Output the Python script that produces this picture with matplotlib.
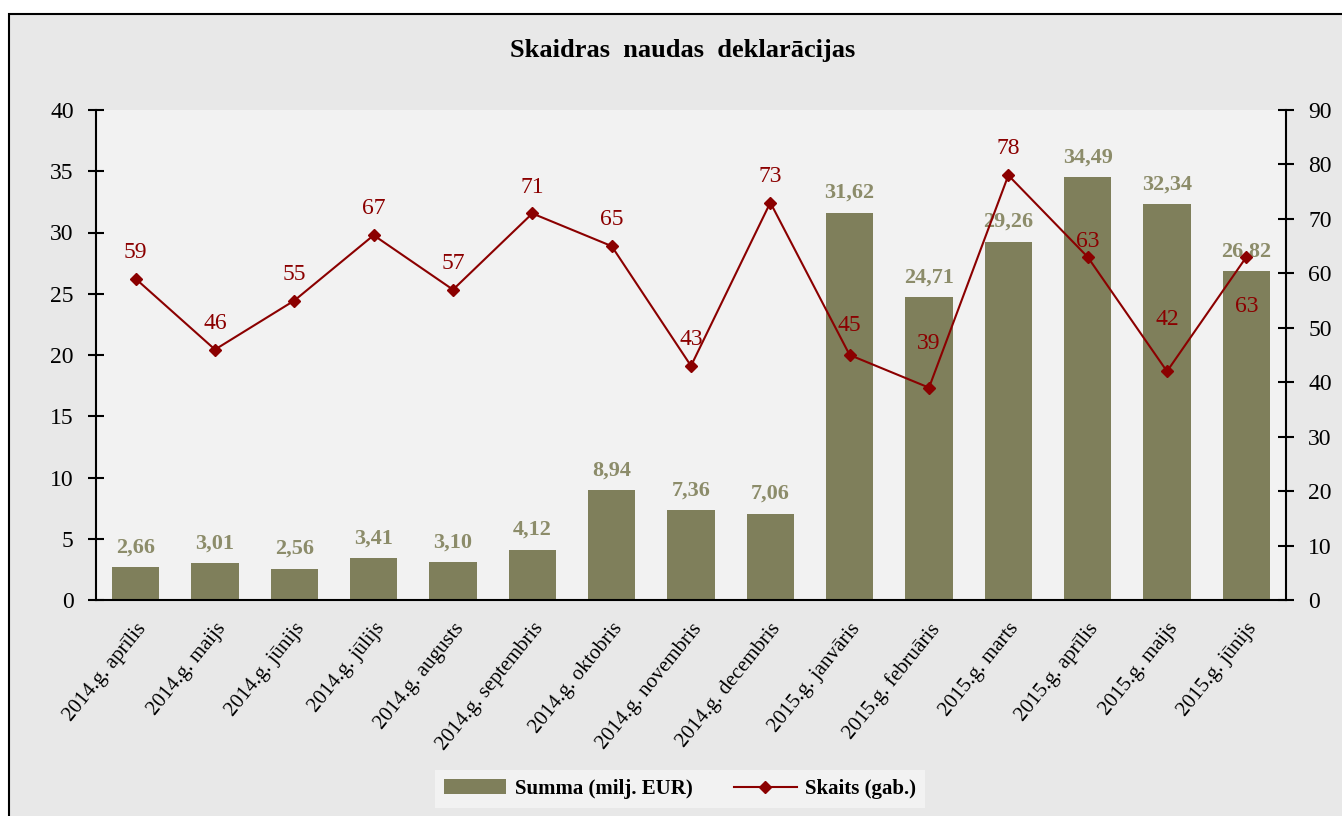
import numpy as np
import matplotlib
matplotlib.use("Agg")
import matplotlib.pyplot as plt
from matplotlib.patches import Rectangle, Patch
from matplotlib.lines import Line2D

plt.rcParams['font.family'] = ['Liberation Serif', 'DejaVu Serif']

months = ["2014.g. aprīlis", "2014.g. maijs", "2014.g. jūnijs", "2014.g. jūlijs",
          "2014.g. augusts", "2014.g. septembris", "2014.g. oktobris",
          "2014.g. novembris", "2014.g. decembris", "2015.g. janvāris",
          "2015.g. februāris", "2015.g. marts", "2015.g. aprīlis",
          "2015.g. maijs", "2015.g. jūnijs"]
summa = [2.66, 3.01, 2.56, 3.41, 3.10, 4.12, 8.94, 7.36, 7.06,
         31.62, 24.71, 29.26, 34.49, 32.34, 26.82]
skaits = [59, 46, 55, 67, 57, 71, 65, 43, 73, 45, 39, 78, 63, 42, 63]

# label offsets for counts (points), as placed in the original
cnt_off = [19, 19, 19, 19, 19, 19, 19, 19, 19, 21, 32, 19, 11, 37, -36]

bar_col = "#7f7f5b"
bar_txt = "#8c8c6a"
line_col = "#8b0000"

fig = plt.figure(figsize=(13.42, 8.16), dpi=100, facecolor="white")
fig.patches.append(Rectangle((9 / 1342, -0.05), 1.1, (816 - 14) / 816 + 0.05,
                             transform=fig.transFigure, facecolor="#e8e8e8",
                             edgecolor="black", linewidth=1.5, zorder=-10))

ax = fig.add_axes([96 / 1342, 216 / 816, 1190 / 1342, 490 / 816])
ax.set_facecolor("#f2f2f2")
x = np.arange(len(months))
ax.bar(x, summa, width=0.6, color=bar_col, zorder=2)
for xi, v in zip(x, summa):
    ax.annotate(f"{v:.2f}".replace(".", ","), (xi, v), xytext=(0, 7),
                textcoords="offset points", ha="center", va="bottom",
                fontsize=16, fontweight="bold", color=bar_txt)
ax.set_xlim(-0.5, len(months) - 0.5)
ax.set_ylim(0, 40)
ax.set_yticks(range(0, 41, 5))
ax.set_xticks(x)
ax.set_xticklabels(months, rotation=51, ha="right", rotation_mode="anchor",
                   fontsize=15)
ax.tick_params(axis="x", length=0, pad=14)
ax.tick_params(axis="y", direction="inout", length=12, width=1.5, labelsize=17, pad=10)
for s in ["top", "right"]:
    ax.spines[s].set_visible(False)
ax.spines["left"].set_linewidth(1.5)
ax.spines["bottom"].set_linewidth(1.5)

ax2 = ax.twinx()
ax2.plot(x, skaits, color=line_col, marker="D", markersize=6, linewidth=1.5, zorder=3)
for xi, v, off in zip(x, skaits, cnt_off):
    ax2.annotate(str(v), (xi, v), xytext=(0, off), textcoords="offset points",
                 ha="center", va="center", fontsize=17, color=line_col)
ax2.set_ylim(0, 90)
ax2.set_yticks(range(0, 91, 10))
ax2.tick_params(axis="y", direction="inout", length=12, width=1.5, labelsize=17, pad=10)
for s in ["top", "left", "bottom"]:
    ax2.spines[s].set_visible(False)
ax2.spines["right"].set_linewidth(1.5)

fig.text(683 / 1342, 1 - 50 / 816, "Skaidras  naudas  deklarācijas", ha="center",
         va="center", fontsize=19, fontweight="bold")

handles = [Patch(facecolor=bar_col, label="Summa (milj. EUR)"),
           Line2D([0], [0], color=line_col, marker="D", markersize=6,
                  linewidth=1.5, label="Skaits (gab.)")]
leg = fig.legend(handles=handles, loc="center", bbox_to_anchor=(680 / 1342, 1 - 789 / 816),
                 ncol=2, frameon=True, fancybox=False, prop={"weight": "bold", "size": 15},
                 handlelength=3, handletextpad=0.4, columnspacing=2.0, borderpad=0.45)
leg.get_frame().set_facecolor("#f2f2f2")
leg.get_frame().set_edgecolor("none")
leg.get_frame().set_alpha(1)

fig.savefig("out.png", dpi=100, facecolor=fig.get_facecolor())
